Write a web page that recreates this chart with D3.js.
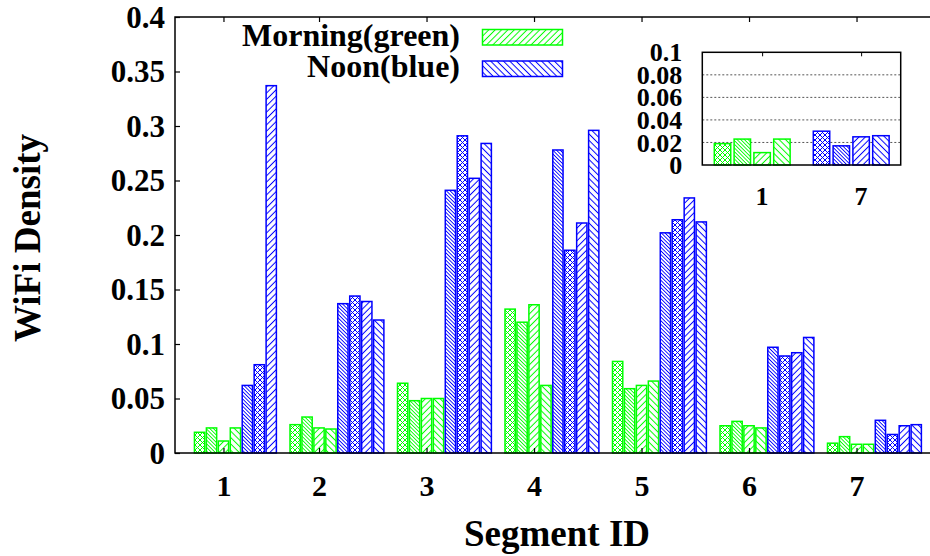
<!DOCTYPE html>
<html>
<head>
<meta charset="utf-8">
<script src="https://cdn.jsdelivr.net/npm/d3@7"></script>
<style>
body { margin: 0; background: #fff; }
</style>
</head>
<body>
<svg id="chart"></svg>
<script>
// data
const segments = ["1", "2", "3", "4", "5", "6", "7"];
const yTickLabels = ["0", "0.05", "0.1", "0.15", "0.2", "0.25", "0.3", "0.35", "0.4"];
const insetTickLabels = ["0", "0.02", "0.04", "0.06", "0.08", "0.1"];
const insetSegments = ["1", "7"];

const morningA = [0.019, 0.026, 0.064, 0.132, 0.084, 0.025, 0.009];
const morningB = [0.023, 0.033, 0.048, 0.120, 0.059, 0.029, 0.015];
const morningC = [0.011, 0.023, 0.050, 0.136, 0.062, 0.025, 0.008];
const morningD = [0.023, 0.022, 0.050, 0.062, 0.066, 0.023, 0.008];
const noonA = [0.062, 0.137, 0.241, 0.278, 0.202, 0.097, 0.030];
const noonB = [0.081, 0.144, 0.291, 0.186, 0.214, 0.089, 0.017];
const noonC = [0.337, 0.139, 0.252, 0.211, 0.234, 0.092, 0.025];
const noonD = [null, 0.122, 0.284, 0.296, 0.212, 0.106, 0.026];

const green = "#00ff00", blue = "#0000ff";
const serif = "'Liberation Serif', 'DejaVu Serif', serif";

const series = [
	{values: morningA, color: green, pat: "cross"},
	{values: morningB, color: green, pat: "dense"},
	{values: morningC, color: green, pat: "fwd"},
	{values: morningD, color: green, pat: "back"},
	{values: noonA, color: blue, pat: "dense"},
	{values: noonB, color: blue, pat: "cross"},
	{values: noonC, color: blue, pat: "fwd"},
	{values: noonD, color: blue, pat: "back"}
];

const width = 930, height = 556;
const plotL = 175, plotR = 932, plotT = 17, plotB = 453;

let svg = d3.select("#chart")
			.attr("width", width)
			.attr("height", height);

/* *** patterns *** */
let defs = svg.append("defs");
function makePattern(id, color, kind){
	let p = defs.append("pattern")
				.attr("id", id)
				.attr("patternUnits", "userSpaceOnUse");
	if(kind === "cross"){
		p.attr("width", 5).attr("height", 5);
		p.append("rect").attr("width", 5).attr("height", 5).attr("fill", "#fff");
		p.append("path")
			.attr("d", "M0,0L5,5M5,0L0,5M-1,4L1,6M4,-1L6,1M-1,1L1,-1M4,6L6,4")
			.attr("stroke", color).attr("stroke-width", 1);
	} else {
		let s = kind === "dense" ? 2.6 : 4.5;
		p.attr("width", s).attr("height", s)
			.attr("patternTransform", `rotate(${kind === "fwd" ? 45 : -45})`);
		p.append("rect").attr("width", s).attr("height", s).attr("fill", "#fff");
		p.append("line")
			.attr("x1", s/2).attr("x2", s/2).attr("y1", 0).attr("y2", s)
			.attr("stroke", color).attr("stroke-width", kind === "dense" ? 0.9 : 1);
	}
}
[["g", green], ["b", blue]].forEach(([k, c])=>{
	["cross", "dense", "fwd", "back"].forEach(kind=>makePattern(`${k}-${kind}`, c, kind));
});
const patId = (color, kind) => `url(#${color === green ? "g" : "b"}-${kind})`;

/* *** scales *** */
const slotsPerGroup = 9, barsPerGroup = 8;
let x = d3.scaleLinear()
			.domain([0, segments.length * slotsPerGroup])
			.range([182.5, 182.5 + 107.5 * segments.length]);
let y = d3.scaleLinear()
			.domain([0, 0.4])
			.range([plotB, plotT]);
const barW = (x(1) - x(0)) * 0.86;

// bars of a group are right aligned in its 8 slots
let bars = [];
let tickSlots = [];
segments.forEach((seg, g)=>{
	let present = series.map(s=>({s, v: s.values[g]})).filter(d=>d.v != null);
	let first = barsPerGroup - present.length;
	present.forEach((d, k)=>bars.push({slot: g * slotsPerGroup + first + k, v: d.v, color: d.s.color, pat: d.s.pat}));
	tickSlots.push(g * slotsPerGroup + first + 2);
});

svg.selectAll("rect.bar")
	.data(bars)
	.enter()
	.append("rect")
	.attr("class", "bar")
	.attr("x", d=>x(d.slot))
	.attr("y", d=>y(d.v))
	.attr("width", barW)
	.attr("height", d=>y(0) - y(d.v))
	.attr("fill", d=>patId(d.color, d.pat))
	.attr("stroke", d=>d.color)
	.attr("stroke-width", 1.5);

/* *** axes *** */
let yAxis = svg.append("g")
			.attr("transform", `translate(${plotL},0)`)
			.call(d3.axisLeft(y)
				.tickValues(d3.range(0, 9).map(i=>i * 0.05))
				.tickSize(-5)
				.tickPadding(10)
				.tickFormat((d, i)=>yTickLabels[i]));
yAxis.select(".domain").remove();
yAxis.selectAll("text").attr("font-size", 31).attr("dy", "0.33em");
yAxis.selectAll("line").attr("stroke-width", 1.2);

const tickX = tickSlots.map(s=>x(s) + barW / 2);
let xAxis = svg.append("g")
			.attr("transform", `translate(0,${plotB})`)
			.call(d3.axisBottom(d3.scaleIdentity())
				.tickValues(tickX)
				.tickSize(-5)
				.tickFormat((d, i)=>segments[i]));
xAxis.select(".domain").remove();
xAxis.selectAll("text").attr("font-size", 30).attr("y", 43).attr("dy", null);
xAxis.selectAll("line").attr("stroke-width", 1.2);

let topAxis = svg.append("g")
			.attr("transform", `translate(0,${plotT})`)
			.call(d3.axisTop(d3.scaleIdentity()).tickValues(tickX).tickSize(-5).tickFormat(""));
topAxis.select(".domain").remove();
topAxis.selectAll("line").attr("stroke-width", 1.2);

svg.append("rect")
	.attr("x", plotL).attr("y", plotT)
	.attr("width", plotR - plotL).attr("height", plotB - plotT)
	.attr("fill", "none").attr("stroke", "#000").attr("stroke-width", 1.5);

/* *** axis titles *** */
svg.append("text")
	.attr("transform", `translate(40,238) rotate(-90)`)
	.attr("text-anchor", "middle")
	.attr("font-size", 37)
	.text("WiFi Density");
svg.append("text")
	.attr("x", 557).attr("y", 546)
	.attr("text-anchor", "middle")
	.attr("font-size", 37)
	.text("Segment ID");

/* *** legend *** */
let legend = svg.append("g").attr("class", "legend");
const legendItems = [
	{name: "Morning(green)", color: green, pat: "fwd"},
	{name: "Noon(blue)", color: blue, pat: "back"}
];
legend.selectAll("text")
	.data(legendItems)
	.enter()
	.append("text")
	.attr("x", 460)
	.attr("y", (d, i)=>46 + i * 31)
	.attr("text-anchor", "end")
	.attr("font-size", 32)
	.text(d=>d.name);
legend.selectAll("rect")
	.data(legendItems)
	.enter()
	.append("rect")
	.attr("x", 482.5)
	.attr("y", (d, i)=>29.5 + i * 31.5)
	.attr("width", 80)
	.attr("height", 15.5)
	.attr("fill", d=>patId(d.color, d.pat))
	.attr("stroke", d=>d.color)
	.attr("stroke-width", 1.5);

/* *** inset: segments 1 and 7 *** */
const insetPats = ["cross", "dense", "fwd", "back"];
const insetL = 702.3, insetR = 900.7, insetT = 52.3, insetB = 165;
let ix = d3.scaleLinear().domain([0, 10]).range([714.3, 714.3 + 198]);
let iy = d3.scaleLinear().domain([0, 0.1]).range([insetB, insetT]);
const iBarW = (ix(1) - ix(0)) * 0.83;

let inset = svg.append("g").attr("class", "inset");
inset.append("rect")
	.attr("x", insetL).attr("y", insetT)
	.attr("width", insetR - insetL).attr("height", insetB - insetT)
	.attr("fill", "#fff");

inset.selectAll("line.grid")
	.data([0.02, 0.04, 0.06, 0.08])
	.enter()
	.append("line")
	.attr("class", "grid")
	.attr("x1", insetL).attr("x2", insetR)
	.attr("y1", d=>iy(d)).attr("y2", d=>iy(d))
	.attr("stroke", "#555")
	.attr("stroke-width", 1)
	.attr("stroke-dasharray", "2,2");

let insetBars = [];
[{g: 0, list: series.slice(0, 4)}, {g: 6, list: series.slice(4, 8)}].forEach((grp, gi)=>{
	grp.list.forEach((s, k)=>insetBars.push({slot: gi * 5 + k, v: s.values[grp.g], color: s.color, pat: insetPats[k]}));
});
inset.selectAll("rect.ibar")
	.data(insetBars)
	.enter()
	.append("rect")
	.attr("class", "ibar")
	.attr("x", d=>ix(d.slot))
	.attr("y", d=>iy(d.v))
	.attr("width", iBarW)
	.attr("height", d=>iy(0) - iy(d.v))
	.attr("fill", d=>patId(d.color, d.pat))
	.attr("stroke", d=>d.color)
	.attr("stroke-width", 1.5);

let iyAxis = inset.append("g")
			.attr("transform", `translate(${insetL},0)`)
			.call(d3.axisLeft(iy)
				.tickValues(d3.range(0, 6).map(i=>i * 0.02))
				.tickSize(0)
				.tickPadding(20)
				.tickFormat((d, i)=>insetTickLabels[i]));
iyAxis.select(".domain").remove();
iyAxis.selectAll("text").attr("font-size", 26).attr("dy", "0.33em");

const iTickX = [2, 7].map(s=>ix(s) + iBarW / 2);
let ixAxis = inset.append("g")
			.attr("transform", `translate(0,${insetT})`)
			.call(d3.axisTop(d3.scaleIdentity()).tickValues(iTickX).tickSize(-4).tickFormat(""));
ixAxis.select(".domain").remove();

inset.selectAll("text.ilab")
	.data(insetSegments)
	.enter()
	.append("text")
	.attr("class", "ilab")
	.attr("x", (d, i)=>iTickX[i])
	.attr("y", 205)
	.attr("text-anchor", "middle")
	.attr("font-size", 26)
	.text(d=>d);

inset.append("rect")
	.attr("x", insetL).attr("y", insetT)
	.attr("width", insetR - insetL).attr("height", insetB - insetT)
	.attr("fill", "none").attr("stroke", "#000").attr("stroke-width", 1.5);

// every text in the Times-like bold face
svg.selectAll("g").attr("font-family", null);
svg.selectAll("text")
	.style("font-family", serif)
	.style("font-weight", "bold")
	.attr("fill", "#000");
</script>
</body>
</html>
